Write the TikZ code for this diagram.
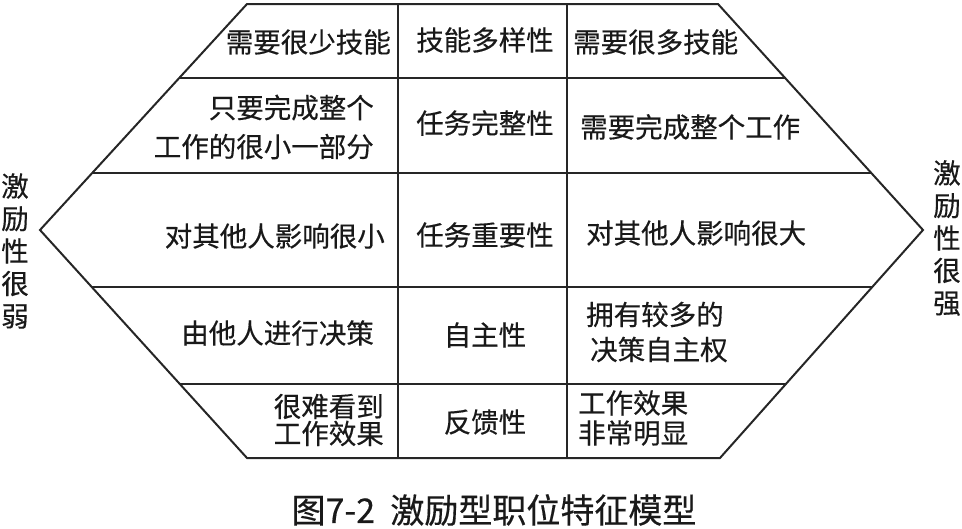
\documentclass[tikz,border=0pt]{standalone}
\usepackage{fontspec}
\setmainfont{Noto Sans CJK SC}[FakeBold=0.4]
\usetikzlibrary{calc}
\begin{document}
\begin{tikzpicture}[x=1pt,y=-1pt,
  frame/.style={line width=2pt,draw=black!85,line join=miter},
  cell/.style={font=\fontsize{27.5}{39}\selectfont,inner sep=0pt,text=black!90},
  side/.style={font=\fontsize{27.5}{32.5}\selectfont,inner sep=0pt,align=center,text=black!90},
  title/.style={font=\fontsize{34}{40}\selectfont,inner sep=0pt,text=black!90}]
\useasboundingbox (0,0) rectangle (962,528);
% hexagon vertices
\coordinate (TL) at (247,4);
\coordinate (TR) at (718,4);
\coordinate (R) at (923,230);
\coordinate (BR) at (720,458);
\coordinate (BL) at (247,458);
\coordinate (L) at (40,230);
\draw[frame] (TL) -- (TR) -- (R) -- (BR) -- (BL) -- (L) -- cycle;
% row dividers
\coordinate (a1) at ($(TL)!0.326!(L)$);  \coordinate (b1) at ($(TR)!0.326!(R)$);
\coordinate (a2) at ($(TL)!0.749!(L)$);  \coordinate (b2) at ($(TR)!0.749!(R)$);
\coordinate (a3) at ($(L)!0.25!(BL)$);   \coordinate (b3) at ($(R)!0.25!(BR)$);
\coordinate (a4) at ($(L)!0.675!(BL)$);  \coordinate (b4) at ($(R)!0.675!(BR)$);
\draw[frame] (a1) -- (b1);
\draw[frame] (a2) -- (b2);
\draw[frame] (a3) -- (b3);
\draw[frame] (a4) -- (b4);
% column dividers
\coordinate (c1t) at (398,4); \coordinate (c1b) at (398,458);
\coordinate (c2t) at (567,4); \coordinate (c2b) at (567,458);
\draw[frame] (c1t) -- (c1b);
\draw[frame] (c2t) -- (c2b);
% row 1
\node[cell,anchor=east] (l1) at (391,42) {需要很少技能};
\node[cell] (m1) at (485,40) {技能多样性};
\node[cell,anchor=west] (r1) at (573,42) {需要很多技能};
% row 2
\node[cell,anchor=east,align=right] (l2) at (374,127) {只要完成整个\\工作的很小一部分};
\node[cell] (m2) at (485,123) {任务完整性};
\node[cell,anchor=west] (r2) at (580,127) {需要完成整个工作};
% row 3
\node[cell,anchor=east] (l3) at (385,236) {对其他人影响很小};
\node[cell] (m3) at (485,235) {任务重要性};
\node[cell,anchor=west] (r3) at (586,233) {对其他人影响很大};
% row 4
\node[cell,anchor=east] (l4) at (374,333) {由他人进行决策};
\node[cell] (m4) at (485,335) {自主性};
\node[cell,anchor=west,align=left,font=\fontsize{27.5}{35}\selectfont] (r4) at (586,332) {拥有较多的\\\hspace{4pt}决策自主权};
% row 5
\node[cell,anchor=east,align=right,font=\fontsize{27.5}{27}\selectfont] (l5) at (384,420) {很难看到\\工作效果};
\node[cell] (m5) at (485,422) {反馈性};
\node[cell,anchor=west,align=left,font=\fontsize{27.5}{30}\selectfont] (r5) at (578,418) {工作效果\\非常明显};
% side labels
\node[side] (sl) at (15,251) {激\\励\\性\\很\\弱};
\node[side] (sr) at (947,238) {激\\励\\性\\很\\强};
% title
\node[title] (cap) at (494,510) {图7-2\hspace{0.45em}激励型职位特征模型};
\end{tikzpicture}
\end{document}
